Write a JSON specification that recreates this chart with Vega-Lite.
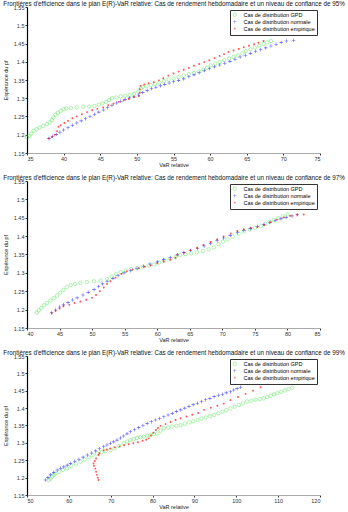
{
"$schema": "https://vega.github.io/schema/vega-lite/v6.json",
"padding": {"left": 3, "right": 25, "top": 0, "bottom": 0},
"config": {
 "view": {"stroke": null},
 "font": "Liberation Sans",
 "concat": {"spacing": 6},
 "title": {"fontSize": 6.3, "fontWeight": "normal", "anchor": "start", "frame": "bounds", "offset": -2, "color": "#111"},
 "axis": {"grid": false, "labelFontSize": 5.5, "titleFontSize": 5.5, "titleFontWeight": "normal", "labelColor": "#333", "titleColor": "#222", "tickSize": 2, "labelPadding": 1, "titlePadding": 1, "tickColor": "#333"},
 "axisY": {"domainColor": "#000", "domainWidth": 1.2, "titlePadding": 5},
 "axisX": {"domainColor": "#aaa"},
 "point": {"size": 12, "filled": true, "strokeWidth": 0.5},
 "legend": {"orient": "top-right", "offset": 3, "labelFontSize": 5.5, "symbolSize": 12, "rowPadding": 0, "padding": 2, "strokeColor": "#333", "fillColor": "#fff", "symbolStrokeWidth": 0.5, "labelLimit": 200, "labelOffset": 6}
},
"datasets": {"d": [
{"p":1,"s":"g","x":35.0,"y":1.193},{"p":1,"s":"g","x":35.3,"y":1.197},{"p":1,"s":"g","x":35.6,"y":1.203},{"p":1,"s":"g","x":35.9,"y":1.211},{"p":1,"s":"g","x":36.3,"y":1.215},{"p":1,"s":"g","x":36.7,"y":1.22},{"p":1,"s":"g","x":37.2,"y":1.224},{"p":1,"s":"g","x":37.7,"y":1.229},{"p":1,"s":"g","x":38.1,"y":1.234},{"p":1,"s":"g","x":38.4,"y":1.24},{"p":1,"s":"g","x":38.6,"y":1.247},{"p":1,"s":"g","x":38.9,"y":1.255},{"p":1,"s":"g","x":39.2,"y":1.26},{"p":1,"s":"g","x":39.6,"y":1.265},{"p":1,"s":"g","x":40.0,"y":1.27},{"p":1,"s":"g","x":40.4,"y":1.272},{"p":1,"s":"g","x":41.0,"y":1.273},{"p":1,"s":"g","x":41.8,"y":1.275},{"p":1,"s":"g","x":42.7,"y":1.277},{"p":1,"s":"g","x":43.5,"y":1.277},{"p":1,"s":"g","x":44.2,"y":1.279},{"p":1,"s":"g","x":44.8,"y":1.283},{"p":1,"s":"g","x":45.3,"y":1.286},{"p":1,"s":"g","x":45.8,"y":1.29},{"p":1,"s":"g","x":46.2,"y":1.295},{"p":1,"s":"g","x":46.6,"y":1.3},{"p":1,"s":"g","x":47.2,"y":1.302},{"p":1,"s":"g","x":47.8,"y":1.305},{"p":1,"s":"g","x":48.4,"y":1.307},{"p":1,"s":"g","x":49.0,"y":1.309},{"p":1,"s":"g","x":49.6,"y":1.312},{"p":1,"s":"g","x":50.2,"y":1.318},{"p":1,"s":"g","x":50.5,"y":1.327},{"p":1,"s":"g","x":50.8,"y":1.331},{"p":1,"s":"g","x":51.3,"y":1.333},{"p":1,"s":"g","x":51.9,"y":1.336},{"p":1,"s":"g","x":52.5,"y":1.339},{"p":1,"s":"g","x":53.1,"y":1.343},{"p":1,"s":"g","x":53.7,"y":1.347},{"p":1,"s":"g","x":54.3,"y":1.351},{"p":1,"s":"g","x":55.0,"y":1.354},{"p":1,"s":"g","x":55.7,"y":1.358},{"p":1,"s":"g","x":56.4,"y":1.362},{"p":1,"s":"g","x":57.1,"y":1.366},{"p":1,"s":"g","x":57.8,"y":1.369},{"p":1,"s":"g","x":58.5,"y":1.373},{"p":1,"s":"g","x":59.1,"y":1.378},{"p":1,"s":"g","x":59.6,"y":1.384},{"p":1,"s":"g","x":60.1,"y":1.39},{"p":1,"s":"g","x":60.7,"y":1.395},{"p":1,"s":"g","x":61.3,"y":1.399},{"p":1,"s":"g","x":61.9,"y":1.404},{"p":1,"s":"g","x":62.6,"y":1.409},{"p":1,"s":"g","x":63.2,"y":1.413},{"p":1,"s":"g","x":63.8,"y":1.417},{"p":1,"s":"g","x":64.4,"y":1.423},{"p":1,"s":"g","x":64.9,"y":1.429},{"p":1,"s":"g","x":65.5,"y":1.434},{"p":1,"s":"g","x":66.1,"y":1.439},{"p":1,"s":"g","x":66.7,"y":1.444},{"p":1,"s":"g","x":67.3,"y":1.449},{"p":1,"s":"g","x":67.8,"y":1.453},{"p":1,"s":"g","x":68.3,"y":1.457},
{"p":1,"s":"n","x":38.0,"y":1.19},{"p":1,"s":"n","x":38.5,"y":1.196},{"p":1,"s":"n","x":39.0,"y":1.201},{"p":1,"s":"n","x":39.5,"y":1.207},{"p":1,"s":"n","x":40.0,"y":1.213},{"p":1,"s":"n","x":40.6,"y":1.219},{"p":1,"s":"n","x":41.2,"y":1.226},{"p":1,"s":"n","x":41.8,"y":1.232},{"p":1,"s":"n","x":42.4,"y":1.238},{"p":1,"s":"n","x":43.0,"y":1.244},{"p":1,"s":"n","x":43.6,"y":1.25},{"p":1,"s":"n","x":44.2,"y":1.256},{"p":1,"s":"n","x":44.8,"y":1.262},{"p":1,"s":"n","x":45.4,"y":1.268},{"p":1,"s":"n","x":46.0,"y":1.274},{"p":1,"s":"n","x":46.6,"y":1.281},{"p":1,"s":"n","x":47.2,"y":1.287},{"p":1,"s":"n","x":47.8,"y":1.292},{"p":1,"s":"n","x":48.4,"y":1.297},{"p":1,"s":"n","x":49.0,"y":1.301},{"p":1,"s":"n","x":49.6,"y":1.305},{"p":1,"s":"n","x":50.2,"y":1.309},{"p":1,"s":"n","x":50.8,"y":1.316},{"p":1,"s":"n","x":51.4,"y":1.321},{"p":1,"s":"n","x":52.0,"y":1.326},{"p":1,"s":"n","x":52.6,"y":1.33},{"p":1,"s":"n","x":53.2,"y":1.334},{"p":1,"s":"n","x":53.8,"y":1.338},{"p":1,"s":"n","x":54.4,"y":1.342},{"p":1,"s":"n","x":55.0,"y":1.345},{"p":1,"s":"n","x":55.7,"y":1.349},{"p":1,"s":"n","x":56.4,"y":1.353},{"p":1,"s":"n","x":57.1,"y":1.359},{"p":1,"s":"n","x":57.8,"y":1.364},{"p":1,"s":"n","x":58.5,"y":1.37},{"p":1,"s":"n","x":59.2,"y":1.376},{"p":1,"s":"n","x":59.9,"y":1.381},{"p":1,"s":"n","x":60.6,"y":1.386},{"p":1,"s":"n","x":61.3,"y":1.391},{"p":1,"s":"n","x":62.0,"y":1.396},{"p":1,"s":"n","x":62.7,"y":1.401},{"p":1,"s":"n","x":63.4,"y":1.407},{"p":1,"s":"n","x":64.1,"y":1.413},{"p":1,"s":"n","x":64.8,"y":1.418},{"p":1,"s":"n","x":65.5,"y":1.423},{"p":1,"s":"n","x":66.2,"y":1.428},{"p":1,"s":"n","x":66.9,"y":1.433},{"p":1,"s":"n","x":67.6,"y":1.438},{"p":1,"s":"n","x":68.3,"y":1.443},{"p":1,"s":"n","x":69.0,"y":1.448},{"p":1,"s":"n","x":69.7,"y":1.453},{"p":1,"s":"n","x":70.4,"y":1.457},{"p":1,"s":"n","x":71.4,"y":1.459},
{"p":1,"s":"e","x":38.0,"y":1.19},{"p":1,"s":"e","x":38.4,"y":1.194},{"p":1,"s":"e","x":38.8,"y":1.2},{"p":1,"s":"e","x":39.1,"y":1.21},{"p":1,"s":"e","x":39.3,"y":1.222},{"p":1,"s":"e","x":39.6,"y":1.226},{"p":1,"s":"e","x":40.1,"y":1.232},{"p":1,"s":"e","x":40.6,"y":1.238},{"p":1,"s":"e","x":41.2,"y":1.245},{"p":1,"s":"e","x":41.8,"y":1.25},{"p":1,"s":"e","x":42.5,"y":1.256},{"p":1,"s":"e","x":43.2,"y":1.262},{"p":1,"s":"e","x":43.9,"y":1.267},{"p":1,"s":"e","x":44.6,"y":1.271},{"p":1,"s":"e","x":45.4,"y":1.275},{"p":1,"s":"e","x":46.1,"y":1.281},{"p":1,"s":"e","x":46.8,"y":1.285},{"p":1,"s":"e","x":47.5,"y":1.29},{"p":1,"s":"e","x":48.2,"y":1.294},{"p":1,"s":"e","x":48.9,"y":1.298},{"p":1,"s":"e","x":49.6,"y":1.303},{"p":1,"s":"e","x":50.3,"y":1.306},{"p":1,"s":"e","x":50.4,"y":1.315},{"p":1,"s":"e","x":50.4,"y":1.325},{"p":1,"s":"e","x":50.5,"y":1.334},{"p":1,"s":"e","x":51.0,"y":1.338},{"p":1,"s":"e","x":51.6,"y":1.341},{"p":1,"s":"e","x":52.3,"y":1.344},{"p":1,"s":"e","x":53.0,"y":1.349},{"p":1,"s":"e","x":53.6,"y":1.355},{"p":1,"s":"e","x":54.3,"y":1.362},{"p":1,"s":"e","x":55.0,"y":1.368},{"p":1,"s":"e","x":55.7,"y":1.373},{"p":1,"s":"e","x":56.4,"y":1.378},{"p":1,"s":"e","x":57.1,"y":1.383},{"p":1,"s":"e","x":57.8,"y":1.389},{"p":1,"s":"e","x":58.5,"y":1.394},{"p":1,"s":"e","x":59.2,"y":1.399},{"p":1,"s":"e","x":59.9,"y":1.404},{"p":1,"s":"e","x":60.6,"y":1.41},{"p":1,"s":"e","x":61.3,"y":1.416},{"p":1,"s":"e","x":61.9,"y":1.421},{"p":1,"s":"e","x":62.5,"y":1.427},{"p":1,"s":"e","x":63.2,"y":1.431},{"p":1,"s":"e","x":63.9,"y":1.435},{"p":1,"s":"e","x":64.6,"y":1.44},{"p":1,"s":"e","x":65.3,"y":1.444},{"p":1,"s":"e","x":66.0,"y":1.448},{"p":1,"s":"e","x":66.6,"y":1.452},{"p":1,"s":"e","x":67.3,"y":1.457},
{"p":2,"s":"g","x":41.5,"y":1.192},{"p":2,"s":"g","x":41.8,"y":1.198},{"p":2,"s":"g","x":42.2,"y":1.205},{"p":2,"s":"g","x":42.6,"y":1.212},{"p":2,"s":"g","x":43.1,"y":1.218},{"p":2,"s":"g","x":43.6,"y":1.225},{"p":2,"s":"g","x":44.1,"y":1.231},{"p":2,"s":"g","x":44.6,"y":1.238},{"p":2,"s":"g","x":45.1,"y":1.246},{"p":2,"s":"g","x":45.6,"y":1.254},{"p":2,"s":"g","x":46.1,"y":1.261},{"p":2,"s":"g","x":46.7,"y":1.267},{"p":2,"s":"g","x":47.4,"y":1.27},{"p":2,"s":"g","x":48.2,"y":1.273},{"p":2,"s":"g","x":49.2,"y":1.275},{"p":2,"s":"g","x":50.3,"y":1.277},{"p":2,"s":"g","x":51.3,"y":1.279},{"p":2,"s":"g","x":52.3,"y":1.283},{"p":2,"s":"g","x":53.0,"y":1.29},{"p":2,"s":"g","x":53.7,"y":1.297},{"p":2,"s":"g","x":54.4,"y":1.302},{"p":2,"s":"g","x":55.2,"y":1.306},{"p":2,"s":"g","x":56.0,"y":1.31},{"p":2,"s":"g","x":56.9,"y":1.313},{"p":2,"s":"g","x":57.8,"y":1.317},{"p":2,"s":"g","x":58.7,"y":1.32},{"p":2,"s":"g","x":59.5,"y":1.323},{"p":2,"s":"g","x":60.3,"y":1.328},{"p":2,"s":"g","x":61.1,"y":1.333},{"p":2,"s":"g","x":62.0,"y":1.338},{"p":2,"s":"g","x":62.8,"y":1.343},{"p":2,"s":"g","x":63.5,"y":1.348},{"p":2,"s":"g","x":64.3,"y":1.351},{"p":2,"s":"g","x":65.2,"y":1.353},{"p":2,"s":"g","x":66.1,"y":1.356},{"p":2,"s":"g","x":67.0,"y":1.36},{"p":2,"s":"g","x":67.9,"y":1.364},{"p":2,"s":"g","x":68.7,"y":1.369},{"p":2,"s":"g","x":69.4,"y":1.378},{"p":2,"s":"g","x":70.1,"y":1.385},{"p":2,"s":"g","x":70.8,"y":1.391},{"p":2,"s":"g","x":71.6,"y":1.399},{"p":2,"s":"g","x":72.5,"y":1.407},{"p":2,"s":"g","x":73.3,"y":1.413},{"p":2,"s":"g","x":74.2,"y":1.418},{"p":2,"s":"g","x":75.0,"y":1.423},{"p":2,"s":"g","x":75.9,"y":1.427},{"p":2,"s":"g","x":76.6,"y":1.433},{"p":2,"s":"g","x":77.3,"y":1.439},{"p":2,"s":"g","x":77.9,"y":1.444},{"p":2,"s":"g","x":78.6,"y":1.449},{"p":2,"s":"g","x":79.3,"y":1.454},{"p":2,"s":"g","x":80.0,"y":1.459},
{"p":2,"s":"n","x":43.8,"y":1.192},{"p":2,"s":"n","x":44.4,"y":1.199},{"p":2,"s":"n","x":45.0,"y":1.207},{"p":2,"s":"n","x":45.6,"y":1.213},{"p":2,"s":"n","x":46.3,"y":1.219},{"p":2,"s":"n","x":47.0,"y":1.226},{"p":2,"s":"n","x":47.7,"y":1.232},{"p":2,"s":"n","x":48.6,"y":1.24},{"p":2,"s":"n","x":49.4,"y":1.247},{"p":2,"s":"n","x":50.3,"y":1.255},{"p":2,"s":"n","x":51.0,"y":1.263},{"p":2,"s":"n","x":51.6,"y":1.27},{"p":2,"s":"n","x":52.3,"y":1.277},{"p":2,"s":"n","x":53.2,"y":1.285},{"p":2,"s":"n","x":54.0,"y":1.292},{"p":2,"s":"n","x":54.9,"y":1.3},{"p":2,"s":"n","x":55.9,"y":1.306},{"p":2,"s":"n","x":56.9,"y":1.312},{"p":2,"s":"n","x":57.9,"y":1.318},{"p":2,"s":"n","x":58.9,"y":1.324},{"p":2,"s":"n","x":60.0,"y":1.33},{"p":2,"s":"n","x":61.0,"y":1.336},{"p":2,"s":"n","x":62.0,"y":1.342},{"p":2,"s":"n","x":63.1,"y":1.349},{"p":2,"s":"n","x":64.1,"y":1.355},{"p":2,"s":"n","x":65.1,"y":1.361},{"p":2,"s":"n","x":66.2,"y":1.367},{"p":2,"s":"n","x":67.2,"y":1.373},{"p":2,"s":"n","x":68.2,"y":1.38},{"p":2,"s":"n","x":69.2,"y":1.388},{"p":2,"s":"n","x":70.2,"y":1.395},{"p":2,"s":"n","x":71.2,"y":1.402},{"p":2,"s":"n","x":72.3,"y":1.409},{"p":2,"s":"n","x":73.3,"y":1.416},{"p":2,"s":"n","x":74.3,"y":1.421},{"p":2,"s":"n","x":75.4,"y":1.427},{"p":2,"s":"n","x":76.4,"y":1.432},{"p":2,"s":"n","x":77.3,"y":1.437},{"p":2,"s":"n","x":78.1,"y":1.442},{"p":2,"s":"n","x":79.0,"y":1.447},{"p":2,"s":"n","x":79.8,"y":1.451},{"p":2,"s":"n","x":80.7,"y":1.455},{"p":2,"s":"n","x":81.5,"y":1.458},
{"p":2,"s":"e","x":43.8,"y":1.19},{"p":2,"s":"e","x":44.4,"y":1.197},{"p":2,"s":"e","x":45.0,"y":1.203},{"p":2,"s":"e","x":45.6,"y":1.209},{"p":2,"s":"e","x":46.5,"y":1.213},{"p":2,"s":"e","x":47.3,"y":1.218},{"p":2,"s":"e","x":48.2,"y":1.222},{"p":2,"s":"e","x":49.1,"y":1.227},{"p":2,"s":"e","x":50.0,"y":1.232},{"p":2,"s":"e","x":50.6,"y":1.24},{"p":2,"s":"e","x":51.2,"y":1.25},{"p":2,"s":"e","x":51.8,"y":1.26},{"p":2,"s":"e","x":52.3,"y":1.27},{"p":2,"s":"e","x":52.8,"y":1.277},{"p":2,"s":"e","x":53.6,"y":1.287},{"p":2,"s":"e","x":54.5,"y":1.297},{"p":2,"s":"e","x":55.3,"y":1.304},{"p":2,"s":"e","x":56.2,"y":1.309},{"p":2,"s":"e","x":57.2,"y":1.313},{"p":2,"s":"e","x":58.1,"y":1.317},{"p":2,"s":"e","x":59.0,"y":1.32},{"p":2,"s":"e","x":60.0,"y":1.326},{"p":2,"s":"e","x":61.0,"y":1.331},{"p":2,"s":"e","x":62.0,"y":1.336},{"p":2,"s":"e","x":62.8,"y":1.341},{"p":2,"s":"e","x":63.1,"y":1.35},{"p":2,"s":"e","x":64.1,"y":1.355},{"p":2,"s":"e","x":65.1,"y":1.362},{"p":2,"s":"e","x":66.1,"y":1.368},{"p":2,"s":"e","x":67.1,"y":1.376},{"p":2,"s":"e","x":68.2,"y":1.384},{"p":2,"s":"e","x":69.2,"y":1.391},{"p":2,"s":"e","x":70.2,"y":1.399},{"p":2,"s":"e","x":71.3,"y":1.407},{"p":2,"s":"e","x":72.3,"y":1.414},{"p":2,"s":"e","x":73.3,"y":1.418},{"p":2,"s":"e","x":74.4,"y":1.422},{"p":2,"s":"e","x":75.4,"y":1.425},{"p":2,"s":"e","x":76.4,"y":1.43},{"p":2,"s":"e","x":77.4,"y":1.438},{"p":2,"s":"e","x":78.4,"y":1.445},{"p":2,"s":"e","x":79.4,"y":1.451},{"p":2,"s":"e","x":80.4,"y":1.455},{"p":2,"s":"e","x":81.5,"y":1.458},{"p":2,"s":"e","x":82.5,"y":1.459},
{"p":3,"s":"g","x":55.2,"y":1.193},{"p":3,"s":"g","x":55.6,"y":1.197},{"p":3,"s":"g","x":56.0,"y":1.203},{"p":3,"s":"g","x":56.4,"y":1.208},{"p":3,"s":"g","x":56.8,"y":1.212},{"p":3,"s":"g","x":57.7,"y":1.217},{"p":3,"s":"g","x":58.6,"y":1.222},{"p":3,"s":"g","x":59.6,"y":1.227},{"p":3,"s":"g","x":60.6,"y":1.233},{"p":3,"s":"g","x":61.7,"y":1.24},{"p":3,"s":"g","x":62.8,"y":1.246},{"p":3,"s":"g","x":63.8,"y":1.252},{"p":3,"s":"g","x":64.8,"y":1.258},{"p":3,"s":"g","x":65.7,"y":1.264},{"p":3,"s":"g","x":66.7,"y":1.27},{"p":3,"s":"g","x":67.8,"y":1.273},{"p":3,"s":"g","x":68.8,"y":1.276},{"p":3,"s":"g","x":69.9,"y":1.279},{"p":3,"s":"g","x":70.9,"y":1.284},{"p":3,"s":"g","x":72.0,"y":1.291},{"p":3,"s":"g","x":73.1,"y":1.299},{"p":3,"s":"g","x":73.9,"y":1.304},{"p":3,"s":"g","x":74.7,"y":1.308},{"p":3,"s":"g","x":75.5,"y":1.311},{"p":3,"s":"g","x":76.3,"y":1.314},{"p":3,"s":"g","x":77.1,"y":1.316},{"p":3,"s":"g","x":77.9,"y":1.318},{"p":3,"s":"g","x":78.7,"y":1.321},{"p":3,"s":"g","x":79.5,"y":1.323},{"p":3,"s":"g","x":80.3,"y":1.325},{"p":3,"s":"g","x":81.1,"y":1.327},{"p":3,"s":"g","x":81.9,"y":1.335},{"p":3,"s":"g","x":82.7,"y":1.342},{"p":3,"s":"g","x":83.7,"y":1.344},{"p":3,"s":"g","x":84.7,"y":1.347},{"p":3,"s":"g","x":85.7,"y":1.349},{"p":3,"s":"g","x":86.7,"y":1.351},{"p":3,"s":"g","x":87.7,"y":1.355},{"p":3,"s":"g","x":88.7,"y":1.359},{"p":3,"s":"g","x":89.7,"y":1.362},{"p":3,"s":"g","x":90.7,"y":1.366},{"p":3,"s":"g","x":91.7,"y":1.37},{"p":3,"s":"g","x":92.7,"y":1.373},{"p":3,"s":"g","x":93.7,"y":1.377},{"p":3,"s":"g","x":94.7,"y":1.38},{"p":3,"s":"g","x":95.7,"y":1.385},{"p":3,"s":"g","x":96.7,"y":1.39},{"p":3,"s":"g","x":97.6,"y":1.394},{"p":3,"s":"g","x":98.6,"y":1.399},{"p":3,"s":"g","x":99.6,"y":1.404},{"p":3,"s":"g","x":100.6,"y":1.409},{"p":3,"s":"g","x":101.6,"y":1.414},{"p":3,"s":"g","x":102.6,"y":1.419},{"p":3,"s":"g","x":103.6,"y":1.421},{"p":3,"s":"g","x":104.6,"y":1.424},{"p":3,"s":"g","x":105.6,"y":1.426},{"p":3,"s":"g","x":106.6,"y":1.428},{"p":3,"s":"g","x":107.4,"y":1.432},{"p":3,"s":"g","x":108.2,"y":1.436},{"p":3,"s":"g","x":109.0,"y":1.44},{"p":3,"s":"g","x":109.8,"y":1.443},{"p":3,"s":"g","x":110.7,"y":1.447},{"p":3,"s":"g","x":111.6,"y":1.451},{"p":3,"s":"g","x":112.5,"y":1.455},{"p":3,"s":"g","x":113.4,"y":1.459},
{"p":3,"s":"n","x":54.4,"y":1.193},{"p":3,"s":"n","x":55.0,"y":1.2},{"p":3,"s":"n","x":55.6,"y":1.208},{"p":3,"s":"n","x":56.4,"y":1.215},{"p":3,"s":"n","x":57.2,"y":1.222},{"p":3,"s":"n","x":58.0,"y":1.227},{"p":3,"s":"n","x":58.8,"y":1.231},{"p":3,"s":"n","x":59.6,"y":1.236},{"p":3,"s":"n","x":60.4,"y":1.241},{"p":3,"s":"n","x":61.4,"y":1.247},{"p":3,"s":"n","x":62.4,"y":1.253},{"p":3,"s":"n","x":63.4,"y":1.259},{"p":3,"s":"n","x":64.4,"y":1.265},{"p":3,"s":"n","x":65.4,"y":1.271},{"p":3,"s":"n","x":66.4,"y":1.277},{"p":3,"s":"n","x":67.3,"y":1.283},{"p":3,"s":"n","x":68.3,"y":1.289},{"p":3,"s":"n","x":69.1,"y":1.294},{"p":3,"s":"n","x":69.9,"y":1.299},{"p":3,"s":"n","x":70.7,"y":1.303},{"p":3,"s":"n","x":71.5,"y":1.308},{"p":3,"s":"n","x":72.3,"y":1.314},{"p":3,"s":"n","x":73.1,"y":1.32},{"p":3,"s":"n","x":73.9,"y":1.326},{"p":3,"s":"n","x":74.7,"y":1.332},{"p":3,"s":"n","x":75.7,"y":1.338},{"p":3,"s":"n","x":76.7,"y":1.344},{"p":3,"s":"n","x":77.7,"y":1.35},{"p":3,"s":"n","x":78.7,"y":1.356},{"p":3,"s":"n","x":79.7,"y":1.361},{"p":3,"s":"n","x":80.7,"y":1.366},{"p":3,"s":"n","x":81.7,"y":1.37},{"p":3,"s":"n","x":82.7,"y":1.375},{"p":3,"s":"n","x":83.7,"y":1.38},{"p":3,"s":"n","x":84.7,"y":1.385},{"p":3,"s":"n","x":85.7,"y":1.39},{"p":3,"s":"n","x":86.7,"y":1.395},{"p":3,"s":"n","x":87.7,"y":1.4},{"p":3,"s":"n","x":88.7,"y":1.405},{"p":3,"s":"n","x":89.7,"y":1.41},{"p":3,"s":"n","x":90.7,"y":1.414},{"p":3,"s":"n","x":91.7,"y":1.419},{"p":3,"s":"n","x":92.7,"y":1.424},{"p":3,"s":"n","x":93.7,"y":1.428},{"p":3,"s":"n","x":94.7,"y":1.433},{"p":3,"s":"n","x":95.7,"y":1.437},{"p":3,"s":"n","x":96.7,"y":1.44},{"p":3,"s":"n","x":97.6,"y":1.444},{"p":3,"s":"n","x":98.6,"y":1.447},{"p":3,"s":"n","x":99.4,"y":1.452},{"p":3,"s":"n","x":100.2,"y":1.456},{"p":3,"s":"n","x":101.0,"y":1.46},
{"p":3,"s":"e","x":67.1,"y":1.193},{"p":3,"s":"e","x":66.9,"y":1.2},{"p":3,"s":"e","x":66.7,"y":1.208},{"p":3,"s":"e","x":66.5,"y":1.217},{"p":3,"s":"e","x":66.3,"y":1.226},{"p":3,"s":"e","x":66.0,"y":1.234},{"p":3,"s":"e","x":65.9,"y":1.241},{"p":3,"s":"e","x":66.2,"y":1.248},{"p":3,"s":"e","x":66.5,"y":1.255},{"p":3,"s":"e","x":67.1,"y":1.265},{"p":3,"s":"e","x":67.3,"y":1.27},{"p":3,"s":"e","x":68.3,"y":1.279},{"p":3,"s":"e","x":69.1,"y":1.281},{"p":3,"s":"e","x":69.9,"y":1.284},{"p":3,"s":"e","x":71.0,"y":1.287},{"p":3,"s":"e","x":72.1,"y":1.29},{"p":3,"s":"e","x":73.2,"y":1.293},{"p":3,"s":"e","x":74.3,"y":1.296},{"p":3,"s":"e","x":75.4,"y":1.299},{"p":3,"s":"e","x":76.5,"y":1.302},{"p":3,"s":"e","x":77.6,"y":1.306},{"p":3,"s":"e","x":78.5,"y":1.309},{"p":3,"s":"e","x":79.1,"y":1.313},{"p":3,"s":"e","x":79.6,"y":1.321},{"p":3,"s":"e","x":80.2,"y":1.329},{"p":3,"s":"e","x":80.8,"y":1.337},{"p":3,"s":"e","x":81.3,"y":1.343},{"p":3,"s":"e","x":81.9,"y":1.349},{"p":3,"s":"e","x":83.1,"y":1.354},{"p":3,"s":"e","x":84.3,"y":1.36},{"p":3,"s":"e","x":85.5,"y":1.366},{"p":3,"s":"e","x":86.7,"y":1.371},{"p":3,"s":"e","x":88.1,"y":1.376},{"p":3,"s":"e","x":89.5,"y":1.381},{"p":3,"s":"e","x":90.9,"y":1.386},{"p":3,"s":"e","x":92.3,"y":1.395},{"p":3,"s":"e","x":93.9,"y":1.401},{"p":3,"s":"e","x":95.5,"y":1.407},{"p":3,"s":"e","x":97.0,"y":1.413},{"p":3,"s":"e","x":98.6,"y":1.423},{"p":3,"s":"e","x":100.4,"y":1.432},{"p":3,"s":"e","x":102.2,"y":1.441},{"p":3,"s":"e","x":104.0,"y":1.45},{"p":3,"s":"e","x":105.8,"y":1.46}
]},
"vconcat": [
{
 "title": "Frontières d'efficience dans le plan E(R)-VaR relative: Cas de rendement hebdomadaire et un niveau de confiance de 95%",
 "width": 293, "height": 146,
 "data": {"name": "d"},
 "transform": [{"filter": "datum.p == 1"}],
 "mark": {"type": "point"},
 "encoding": {
  "x": {"field": "x", "type": "quantitative", "title": "VaR relative", "scale": {"domain": [35, 75], "nice": false, "zero": false}, "axis": {"values": [35,40,45,50,55,60,65,70,75]}},
  "y": {"field": "y", "type": "quantitative", "title": "Espérance du pf", "scale": {"domain": [1.15, 1.55], "nice": false, "zero": false}, "axis": {"values": [1.15,1.2,1.25,1.3,1.35,1.4,1.45,1.5,1.55], "format": "~g"}},
  "shape": {"field": "s", "type": "nominal", "title": null, "scale": {"domain": ["g","n","e"], "range": ["circle","M-1,-0.17H1V0.17H-1Z M-0.17,-1H0.17V1H-0.17Z","M0,-0.55A0.55,0.55 0 1,1 0,0.55A0.55,0.55 0 1,1 0,-0.55Z"]}, "legend": {"labelExpr": "datum.label == 'g' ? 'Cas de distribution GPD' : datum.label == 'n' ? 'Cas de distribution normale' : 'Cas de distribution empirique'"}},
  "stroke": {"field": "s", "type": "nominal", "title": null, "scale": {"domain": ["g","n","e"], "range": ["#22dd22","transparent","transparent"]}},
  "fill": {"field": "s", "type": "nominal", "title": null, "scale": {"domain": ["g","n","e"], "range": ["transparent","#1010ff","#ff1010"]}}
 }
},
{
 "title": "Frontières d'efficience dans le plan E(R)-VaR relative: Cas de rendement hebdomadaire et un niveau de confiance de 97%",
 "width": 293, "height": 147,
 "data": {"name": "d"},
 "transform": [{"filter": "datum.p == 2"}],
 "mark": {"type": "point"},
 "encoding": {
  "x": {"field": "x", "type": "quantitative", "title": "VaR relative", "scale": {"domain": [40, 85], "nice": false, "zero": false}, "axis": {"values": [40,45,50,55,60,65,70,75,80,85]}},
  "y": {"field": "y", "type": "quantitative", "title": "Espérance du pf", "scale": {"domain": [1.15, 1.55], "nice": false, "zero": false}, "axis": {"values": [1.15,1.2,1.25,1.3,1.35,1.4,1.45,1.5,1.55], "format": "~g"}},
  "shape": {"field": "s", "type": "nominal", "title": null, "scale": {"domain": ["g","n","e"], "range": ["circle","M-1,-0.17H1V0.17H-1Z M-0.17,-1H0.17V1H-0.17Z","M0,-0.55A0.55,0.55 0 1,1 0,0.55A0.55,0.55 0 1,1 0,-0.55Z"]}, "legend": {"labelExpr": "datum.label == 'g' ? 'Cas de distribution GPD' : datum.label == 'n' ? 'Cas de distribution normale' : 'Cas de distribution empirique'"}},
  "stroke": {"field": "s", "type": "nominal", "title": null, "scale": {"domain": ["g","n","e"], "range": ["#22dd22","transparent","transparent"]}},
  "fill": {"field": "s", "type": "nominal", "title": null, "scale": {"domain": ["g","n","e"], "range": ["transparent","#1010ff","#ff1010"]}}
 }
},
{
 "title": "Frontières d'efficience dans le plan E(R)-VaR relative: Cas de rendement hebdomadaire et un niveau de confiance de 99%",
 "width": 293, "height": 139,
 "data": {"name": "d"},
 "transform": [{"filter": "datum.p == 3"}],
 "mark": {"type": "point"},
 "encoding": {
  "x": {"field": "x", "type": "quantitative", "title": "VaR relative", "scale": {"domain": [50, 120], "nice": false, "zero": false}, "axis": {"values": [50,60,70,80,90,100,110,120]}},
  "y": {"field": "y", "type": "quantitative", "title": "Espérance du pf", "scale": {"domain": [1.15, 1.55], "nice": false, "zero": false}, "axis": {"values": [1.15,1.2,1.25,1.3,1.35,1.4,1.45,1.5,1.55], "format": "~g"}},
  "shape": {"field": "s", "type": "nominal", "title": null, "scale": {"domain": ["g","n","e"], "range": ["circle","M-1,-0.17H1V0.17H-1Z M-0.17,-1H0.17V1H-0.17Z","M0,-0.55A0.55,0.55 0 1,1 0,0.55A0.55,0.55 0 1,1 0,-0.55Z"]}, "legend": {"labelExpr": "datum.label == 'g' ? 'Cas de distribution GPD' : datum.label == 'n' ? 'Cas de distribution normale' : 'Cas de distribution empirique'"}},
  "stroke": {"field": "s", "type": "nominal", "title": null, "scale": {"domain": ["g","n","e"], "range": ["#22dd22","transparent","transparent"]}},
  "fill": {"field": "s", "type": "nominal", "title": null, "scale": {"domain": ["g","n","e"], "range": ["transparent","#1010ff","#ff1010"]}}
 }
}
],
"resolve": {"scale": {"x": "independent", "y": "independent", "shape": "independent", "stroke": "independent", "fill": "independent"}, "legend": {"shape": "independent", "stroke": "independent", "fill": "independent"}}
}
